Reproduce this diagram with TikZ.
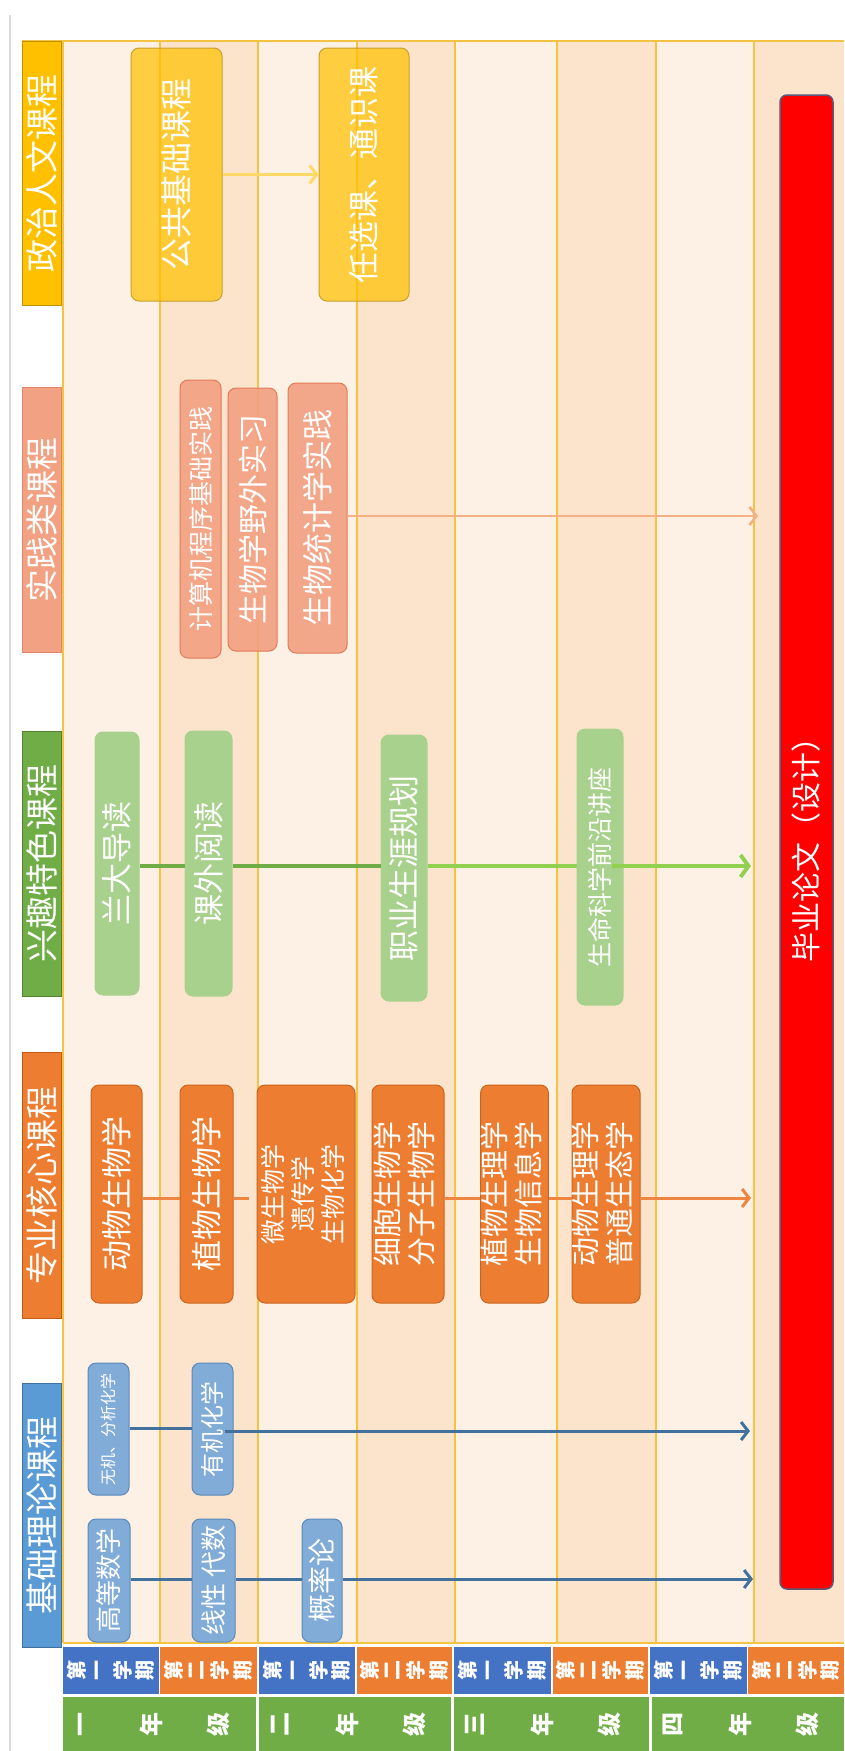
\documentclass[tikz,border=0pt]{standalone}
\usepackage{fontspec}
\setmainfont{Noto Sans CJK SC}
\usetikzlibrary{arrows.meta}
\definecolor{colL}{HTML}{FDF1E6}
\definecolor{colD}{HTML}{FCE4CC}
\definecolor{gridc}{HTML}{F5C342}
\definecolor{semb}{HTML}{4472C4}
\definecolor{semo}{HTML}{ED7D31}
\definecolor{gradeg}{HTML}{70AD47}
\definecolor{catY}{HTML}{FFC000}
\definecolor{catYd}{HTML}{BF9000}
\definecolor{catS}{HTML}{F2A283}
\definecolor{catSd}{HTML}{E0866A}
\definecolor{catG}{HTML}{70AD47}
\definecolor{catGd}{HTML}{548235}
\definecolor{catO}{HTML}{ED7D31}
\definecolor{catOd}{HTML}{C55A11}
\definecolor{catB}{HTML}{5B9BD5}
\definecolor{catBd}{HTML}{41719C}
\definecolor{yfill}{HTML}{FFC000}
\definecolor{ydraw}{HTML}{C8A02A}
\definecolor{sfill}{HTML}{F3A081}
\definecolor{sdraw}{HTML}{E07B5A}
\definecolor{gfill}{HTML}{A9D18E}
\definecolor{ofill}{HTML}{ED7D31}
\definecolor{odraw}{HTML}{C9651E}
\definecolor{bfill}{HTML}{82ACD8}
\definecolor{bdraw}{HTML}{5A89BA}
\definecolor{redfill}{HTML}{FF0000}
\definecolor{reddraw}{HTML}{595979}
\definecolor{connB}{HTML}{41719C}
\definecolor{connO}{HTML}{EE8540}
\definecolor{connG}{HTML}{70AD47}
\definecolor{connLG}{HTML}{92D050}
\definecolor{connS}{HTML}{F4B183}
\definecolor{connY}{HTML}{FFD966}
\newcommand\myrot[2]{\rotatebox{90}{\fontsize{#1}{#1}\selectfont #2}}
\newcommand\myrotl[3]{\rotatebox{90}{\fontsize{#1}{#2}\selectfont\begin{tabular}{@{}c@{}}#3\end{tabular}}}
\begin{document}
\begin{tikzpicture}[x=1pt,y=1pt,
  gridline/.style={draw=gridc, line width=1.2pt},
  box/.style={rounded corners=8pt, inner sep=0pt, text=white, align=center, line width=1pt},
  catbox/.style={inner sep=0pt, text=white, minimum width=39pt, line width=1pt},
  ybox/.style={box, fill=yfill, fill opacity=0.72, text opacity=1, draw=ydraw},
  sbox/.style={box, fill=sfill, fill opacity=0.9, text opacity=1, draw=sdraw},
  gbox/.style={box, fill=gfill, draw=gfill},
  obox/.style={box, fill=ofill, draw=odraw},
  bbox/.style={box, fill=bfill, draw=bdraw},
  myarrow/.style={-{Straight Barb[length=7pt,width=18pt]}},
  semtext/.style={text=white, inner sep=0pt, font=\fontsize{20}{20}\selectfont\bfseries},
  gradetext/.style={text=white, inner sep=0pt, font=\fontsize{24}{24}\selectfont\bfseries},
]
\useasboundingbox (0,0) rectangle (844,-1751);
\fill[white] (0,0) rectangle (844,-1751);
\draw[black!15, line width=2pt] (10,-15) -- (10,-1751);
% column backgrounds
\foreach \a/\b/\c in {63/160/colL,160/258/colD,258/357/colL,357/455/colD,455/557/colL,557/656/colD,656/754/colL,754/844/colD}
  \fill[\c] (\a,-41) rectangle (\b,-1643);
\foreach \x in {63,160,258,357,455,557,656,754}
  \draw[gridline] (\x,-41) -- (\x,-1643);
\draw[gridline, line width=2pt] (22,-41) -- (844,-41);
\draw[gridline, line width=2.5pt] (63,-1643) -- (844,-1643);
% semester header
\foreach \a/\b/\c/\n [count=\k] in {63/159/semb/一,160/257/semo/二,259/355/semb/一,357/452/semo/二,454/551/semb/一,553/648/semo/二,650/747/semb/一,748/844/semo/二}{
  \fill[\c] (\a,-1647) rectangle (\b,-1694);
  \pgfmathsetmacro\cx{(\a+\b)/2}
  \foreach \ch [count=\i] in {第,\n,学,期}
    \node[semtext, rotate=90] (s\k-\i) at ({\cx+(\i-2.5)*23},-1670.5) {\ch};
}
% grade row
\foreach \a/\b/\g [count=\k] in {63/256/一,259/451/二,454/649/三,652/844/四}{
  \fill[gradeg] (\a,-1697) rectangle (\b,-1751);
  \foreach \ch/\o [count=\i] in {\g/21,年/88,级/155}
    \node[gradetext, rotate=90] (g\k-\i) at ({\a+\o},-1724) {\ch};
}
% category labels
\node[catbox, fill=catY, draw=catYd, minimum height=264pt] (L1) at (41.5,-173) {\myrot{33}{政治人文课程}};
\node[catbox, fill=catS, draw=catSd, minimum height=265pt] (L2) at (41.5,-519.5) {\myrot{33}{实践类课程}};
\node[catbox, fill=catG, draw=catGd, minimum height=265pt] (L3) at (41.5,-863.5) {\myrot{33}{兴趣特色课程}};
\node[catbox, fill=catO, draw=catOd, minimum height=266pt] (L4) at (41.5,-1185) {\myrot{33}{专业核心课程}};
\node[catbox, fill=catB, draw=catBd, minimum height=264pt] (L5) at (41.5,-1515) {\myrot{33}{基础理论课程}};
% political / humanities
\node[ybox, minimum width=91pt, minimum height=253pt] (Y1) at (176.5,-174.5) {\myrot{32}{公共基础课程}};
\node[ybox, minimum width=90pt, minimum height=253pt] (Y2) at (364,-174.5) {\myrot{31}{任选课、通识课}};
\draw[connY, line width=3pt, myarrow] (Y1.east) -- (Y2.west);
% practice
\node[sbox, minimum width=41pt, minimum height=278pt] (S1) at (200.5,-519) {\myrot{25}{计算机程序基础实践}};
\node[sbox, minimum width=49pt, minimum height=263pt] (S2) at (252.5,-519.5) {\myrot{30}{生物学野外实习}};
\node[sbox, minimum width=59pt, minimum height=270pt] (S3) at (317.5,-518) {\myrot{31}{生物统计学实践}};
\coordinate (Send) at (758,-516);
\draw[connS, line width=2.5pt, myarrow] (S3.east |- Send) -- (Send);
% interest
\node[gbox, minimum width=44pt, minimum height=263pt] (G1) at (117,-863.5) {\myrot{31}{兰大导读}};
\node[gbox, minimum width=47pt, minimum height=265pt] (G2) at (208.5,-863.5) {\myrot{31}{课外阅读}};
\node[gbox, minimum width=46pt, minimum height=266pt] (G3) at (404,-868) {\myrot{31}{职业生涯规划}};
\coordinate (Gend) at (751,-866);
\draw[connG, line width=3.5pt] (G1.east |- Gend) -- (G2.west |- Gend);
\draw[connG, line width=3.5pt] (G2.east |- Gend) -- (G3.west |- Gend);
\draw[connLG, line width=3.5pt] (G3.east |- Gend) -- (577,-866);
\node[gbox, minimum width=46pt, minimum height=276pt] (G4) at (600,-867) {\myrot{25}{生命科学前沿讲座}};
\draw[connLG, line width=4pt, -{Straight Barb[length=8pt,width=22pt]}] ([xshift=12pt]G4.center |- Gend) -- (Gend);
% core
\node[obox, minimum width=51pt, minimum height=218pt] (O1) at (116.5,-1194) {\myrot{31}{动物生物学}};
\node[obox, minimum width=53pt, minimum height=218pt] (O2) at (206.5,-1194) {\myrot{31}{植物生物学}};
\node[obox, minimum width=98pt, minimum height=218pt] (O3) at (306,-1194) {\myrotl{25}{29}{微生物学\\遗传学\\生物化学}};
\node[obox, minimum width=72pt, minimum height=218pt] (O4) at (408,-1194) {\myrotl{29}{31}{细胞生物学\\分子生物学}};
\node[obox, minimum width=67pt, minimum height=218pt] (O5) at (514.5,-1194) {\myrotl{29}{31}{植物生理学\\生物信息学}};
\node[obox, minimum width=68pt, minimum height=218pt] (O6) at (606,-1194) {\myrotl{29}{31}{动物生理学\\普通生态学}};
\coordinate (Oend) at (751,-1198);
\coordinate (Ogap) at (249,-1198);
\draw[connO, line width=3pt] (O1.east |- Oend) -- (O2.west |- Oend);
\draw[connO, line width=3pt] (O2.east |- Oend) -- (Ogap);
\draw[connO, line width=3pt] (O4.east |- Oend) -- (O5.west |- Oend);
\draw[connO, line width=3pt] (O5.east |- Oend) -- (O6.west |- Oend);
\draw[connO, line width=3pt, myarrow] (O6.east |- Oend) -- (Oend);
% basic theory
\node[bbox, minimum width=41pt, minimum height=132pt] (B1) at (108.5,-1429) {\myrot{16}{无机、分析化学}};
\node[bbox, minimum width=41pt, minimum height=132pt] (B2) at (212.5,-1429) {\myrot{24}{有机化学}};
\node[bbox, minimum width=42pt, minimum height=123pt] (B3) at (109,-1580.5) {\myrot{26}{高等数学}};
\node[bbox, minimum width=43pt, minimum height=123pt] (B4) at (213.5,-1580.5) {\myrot{26}{线性 代数}};
\node[bbox, minimum width=40pt, minimum height=123pt] (B5) at (322,-1580.5) {\myrot{28}{概率论}};
\coordinate (B2end) at (750,-1431);
\coordinate (B5end) at (753,-1579);
\draw[connB, line width=3pt] (B1.east |- 0,-1428) -- (B2.west |- 0,-1428);
\draw[connB, line width=3pt, myarrow] ([xshift=12pt]B2.center |- B2end) -- (B2end);
\draw[connB, line width=3pt] (B3.east |- B5end) -- (B4.west |- B5end);
\draw[connB, line width=3pt] (B4.east |- B5end) -- (B5.west |- B5end);
\draw[connB, line width=3pt, myarrow] (B5.east |- B5end) -- (B5end);
% thesis
\node[box, rounded corners=7pt, fill=redfill, draw=reddraw, line width=1.5pt, minimum width=53pt, minimum height=1494pt] (R) at (806.5,-842) {\myrot{30}{毕业论文（设计）}};
\end{tikzpicture}
\end{document}
